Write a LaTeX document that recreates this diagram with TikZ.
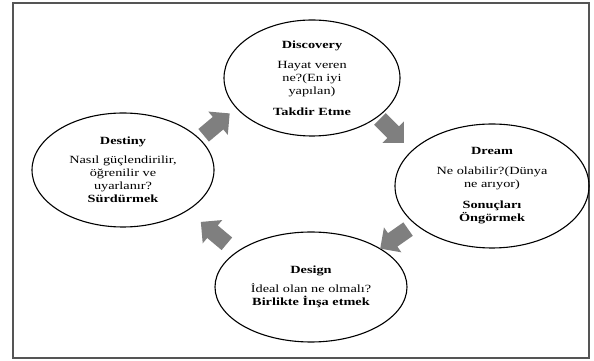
\documentclass[tikz,border=0pt]{standalone}
\usepackage{fontspec}
\setmainfont{Liberation Serif}[FakeStretch=1.3]
\usetikzlibrary{positioning,calc,shapes.geometric,shapes.arrows}
\definecolor{cyclegrey}{HTML}{7F7F7F}
\definecolor{frameline}{HTML}{555555}

\begin{document}
\begin{tikzpicture}[x=1pt, y=1pt,
  font=\fontsize{11}{13}\selectfont,
  phase/.style={ellipse, draw=black, line width=1.1pt, align=center, inner sep=0pt},
  flowarr/.style={single arrow, fill=cyclegrey, draw=none, inner sep=0pt,
                  text height=8pt, text depth=8pt, text width=0pt,
                  minimum width=30pt, minimum height=34pt,
                  single arrow head extend=7pt, single arrow head indent=0pt}
]
\useasboundingbox (0,0) rectangle (594,361);
% ================= outer frame =================
\draw[frameline, line width=1.5pt] (13,3) rectangle (589,358);
% ================= the four phases =================
\node[phase, minimum width=176pt, minimum height=116pt] (discovery) at (312,283)
  {\textbf{Discovery}\\[7pt]Hayat veren\\ne?(En iyi\\yapılan)\\[8pt]\textbf{Takdir Etme}};
\node[phase, minimum width=194pt, minimum height=124pt] (dream) at (492,175)
  {\textbf{Dream}\\[7pt]Ne olabilir?(Dünya\\ne arıyor)\\[8pt]\textbf{Sonuçları}\\\textbf{Öngörmek}};
\node[phase, minimum width=192pt, minimum height=110pt] (design) at (311,74)
  {\textbf{Design}\\[6pt]İdeal olan ne olmalı?\\\textbf{Birlikte İnşa etmek}};
\node[phase, minimum width=182pt, minimum height=114pt] (destiny) at (123,191)
  {\textbf{Destiny}\\[6pt]Nasıl güçlendirilir,\\öğrenilir ve\\uyarlanır?\\\textbf{Sürdürmek}};
% ================= cycle arrows between phases =================
\node[flowarr, rotate=40]  (a1) at ($(destiny)!0.5!(discovery)+(-4,-3)$) {};
\node[flowarr, rotate=-45] (a2) at ($(discovery)!0.5!(dream)+(-13,4)$) {};
\node[flowarr, rotate=215] (a3) at ($(dream)!0.5!(design)+(-4,0)$) {};
\node[flowarr, rotate=140] (a4) at ($(design)!0.5!(destiny)+(0,-7)$) {};
\end{tikzpicture}
\end{document}
